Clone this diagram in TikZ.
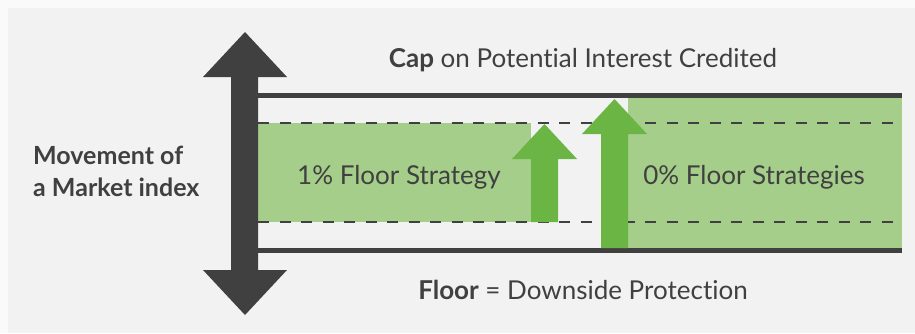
\documentclass[tikz,border=0pt]{standalone}
\usepackage{fontspec}
\setmainfont[Ligatures={NoCommon}]{Lato}
\definecolor{bgout}{HTML}{FAFAFA}
\definecolor{bgin}{HTML}{F2F2F2}
\definecolor{dark}{HTML}{404041}
\definecolor{lgreen}{HTML}{A5CE8A}
\definecolor{dgreen}{HTML}{6BB545}
\definecolor{txt}{HTML}{404040}
\tikzset{
  solidline/.style={draw=dark,line width=5pt},
  dashline/.style={draw=dark,line width=2.8pt,dash pattern=on 11pt off 10.5pt},
  lbl/.style={text=txt,inner sep=0pt,font=\fontsize{26}{32}\selectfont},
  greenarrow/.style={fill=dgreen},
}
\begin{document}
\begin{tikzpicture}[x=1pt,y=-1pt]
\useasboundingbox (0,0) rectangle (915,333);
\fill[bgout] (0,0) rectangle (915,333);
\fill[bgin] (8,8) rectangle (915,333);
% green areas
\fill[lgreen] (258,123) rectangle (531,222);
\fill[lgreen] (628,96) rectangle (902,250);
% lines
\coordinate (dL1) at (258,123); \coordinate (dR1) at (902,123);
\coordinate (dL2) at (258,222); \coordinate (dR2) at (902,222);
\coordinate (sL1) at (258,95.5); \coordinate (sR1) at (902,95.5);
\coordinate (sL2) at (258,250.5); \coordinate (sR2) at (902,250.5);
\draw[dashline] (dL1) -- (dR1);
\draw[dashline] (dL2) -- (dR2);
\draw[solidline] (sL1) -- (sR1);
\draw[solidline] (sL2) -- (sR2);
% green arrows
\fill[greenarrow] (531,222) -- (531,159) -- (512,159) -- (544.5,124) -- (577,159) -- (558,159) -- (558,222) -- cycle;
\fill[greenarrow] (601,248) -- (601,134) -- (582,134) -- (614.5,99) -- (647,134) -- (628,134) -- (628,248) -- cycle;
% dark double arrow
\fill[dark] (231,77) -- (203,77) -- (245,32) -- (287,77) -- (258,77) -- (258,270) -- (287,270) -- (245,315) -- (203,270) -- (231,270) -- cycle;
% texts
\node[lbl] (cap) at (583,60) {\textbf{Cap} on Potential Interest Credited};
\node[lbl] (floor) at (583,290) {\textbf{Floor} = Downside Protection};
\node[lbl] (one) at (399,177) {1\% Floor Strategy};
\node[lbl] (zero) at (754,177) {0\% Floor Strategies};
\node[lbl,anchor=west,align=left,font=\bfseries\fontsize{25}{32}\selectfont] (move) at (33,171) {Movement of\\a Market index};
\end{tikzpicture}
\end{document}
